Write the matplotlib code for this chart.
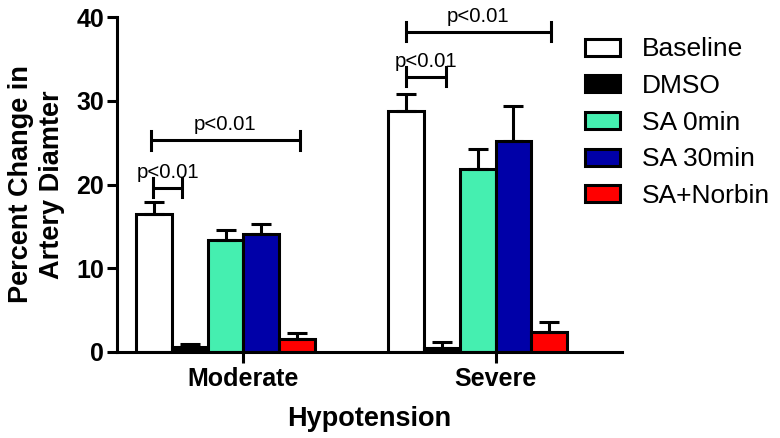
import numpy as np
import matplotlib
matplotlib.use("Agg")
import matplotlib.pyplot as plt

plt.rcParams['font.family'] = ['Liberation Sans', 'DejaVu Sans']

# data
groups = ["Moderate", "Severe"]
series = ["Baseline", "DMSO", "SA 0min", "SA 30min", "SA+Norbin"]
colors = ["#FFFFFF", "#000000", "#45EFB0", "#0000A8", "#FF0000"]
moderate_mean = [16.5, 0.6, 13.4, 14.1, 1.5]
moderate_sem = [1.4, 0.3, 1.2, 1.2, 0.7]
severe_mean = [28.8, 0.5, 21.8, 25.2, 2.3]
severe_sem = [2.0, 0.7, 2.4, 4.2, 1.2]

# significance brackets: (x start, x end, height, label)
brackets = [
    (-0.358, -0.242, 19.6, "p<0.01"),
    (-0.368, 0.225, 25.3, "p<0.01"),
    (0.645, 0.805, 32.9, "p<0.01"),
    (0.645, 1.219, 38.3, "p<0.01"),
]

means = np.array([moderate_mean, severe_mean])
sems = np.array([moderate_sem, severe_sem])
xg = np.arange(len(groups))
w = 0.1418
lw = 2.2

fig = plt.figure(figsize=(7.8, 4.38), dpi=100)
ax = fig.add_axes([117.3 / 780, 1 - 351.7 / 438, (621.7 - 117.3) / 780, (351.7 - 17.3) / 438])

handles = []
for i, name in enumerate(series):
    x = xg + (i - 2.5) * w
    b = ax.bar(x, means[:, i], w, color=colors[i], edgecolor="black",
               linewidth=lw, label=name, zorder=2)
    handles.append(b)
    ax.errorbar(x, means[:, i], yerr=[np.zeros(len(groups)), sems[:, i]],
                fmt="none", ecolor="black", elinewidth=lw, capsize=7.5,
                capthick=lw, zorder=3)

for x1, x2, y, txt in brackets:
    ax.plot([x1, x2], [y, y], color="black", lw=lw, solid_capstyle="butt")
    ax.plot([x1, x1], [y - 1.15, y + 1.15], color="black", lw=lw)
    ax.plot([x2, x2], [y - 1.15, y + 1.15], color="black", lw=lw)
    ax.text((x1 + x2) / 2, y + 0.7, txt, ha="center", va="bottom", fontsize=14.7)

ax.set_xlim(-0.5, 1.5)
ax.set_ylim(0, 40)
ax.set_yticks([0, 10, 20, 30, 40])
ax.set_xticks(xg)
ax.set_xticklabels(groups, fontsize=18, fontweight="bold")
for lab in ax.get_yticklabels():
    lab.set_fontsize(18)
    lab.set_fontweight("bold")

for s in ["top", "right"]:
    ax.spines[s].set_visible(False)
for s in ["left", "bottom"]:
    ax.spines[s].set_linewidth(lw)
ax.tick_params(axis="y", direction="out", length=7.5, width=lw, pad=2)
ax.tick_params(axis="x", direction="out", length=8, width=lw, pad=3)

ax.set_xlabel("Hypotension", fontsize=19.5, fontweight="bold", labelpad=11)
ax.set_ylabel("Percent Change in\nArtery Diamter", fontsize=19.5,
              fontweight="bold", labelpad=8, linespacing=1.25)

fig.legend(handles=handles, loc="upper left",
           bbox_to_anchor=(585 / 780, 1 - 37.5 / 438),
           frameon=False, fontsize=19, borderpad=0, borderaxespad=0,
           handlelength=1.33, handleheight=0.6, handletextpad=0.82,
           labelspacing=0.48)

fig.savefig("out.png", dpi=100)
